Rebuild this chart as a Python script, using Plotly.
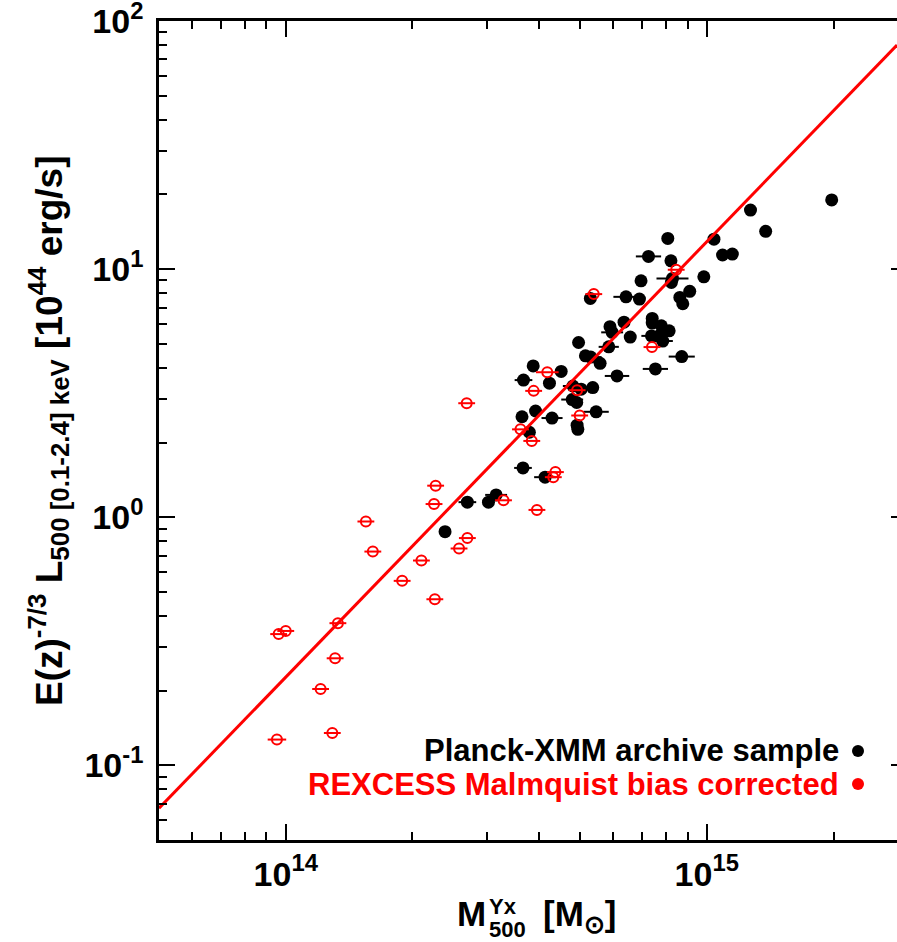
import plotly.graph_objects as go
import math

# ---------------- data ----------------
# Planck-XMM archive sample: M500^Yx [1e14 Msun], E(z)^-7/3 L500 [1e44 erg/s], x error (dex)
black_M = [19.8, 12.7, 13.8, 10.4, 8.08, 10.9, 11.5, 7.27, 8.22, 8.29,
           8.24, 9.84, 6.98, 9.11, 8.63, 8.77, 6.43, 6.92, 5.29, 7.42,
           7.42, 6.36, 5.89, 5.96, 7.80, 8.14, 7.39, 7.69, 7.86, 6.58,
           5.85, 4.96, 5.15, 5.30, 5.58, 8.72, 7.55, 6.12, 3.87, 4.51,
           3.67, 4.23, 4.81, 5.03, 5.36, 4.79, 4.91, 5.46, 3.92, 3.64,
           4.29, 4.92, 4.94, 3.79, 3.66, 4.13, 2.70, 3.03, 3.16, 2.39]
black_L = [19.0, 17.3, 14.2, 13.2, 13.3, 11.4, 11.5, 11.25, 10.8, 9.17,
           8.84, 9.31, 8.97, 8.14, 7.69, 7.25, 7.73, 7.57, 7.62, 6.33,
           6.06, 6.11, 5.86, 5.56, 5.91, 5.64, 5.38, 5.37, 5.13, 5.32,
           4.86, 5.06, 4.47, 4.42, 4.17, 4.44, 3.96, 3.71, 4.07, 3.87,
           3.57, 3.47, 3.38, 3.28, 3.33, 2.98, 2.90, 2.66, 2.68, 2.54,
           2.51, 2.35, 2.26, 2.20, 1.58, 1.45, 1.15, 1.15, 1.23, 0.874]
black_err_dex = [0.01, 0.01, 0.01, 0.01, 0.01, 0.01, 0.01, 0.030, 0.01, 0.038,
                 0.01, 0.01, 0.01, 0.01, 0.01, 0.01, 0.030, 0.01, 0.01, 0.01,
                 0.01, 0.01, 0.01, 0.026, 0.01, 0.01, 0.024, 0.01, 0.024, 0.01,
                 0.024, 0.01, 0.01, 0.026, 0.01, 0.031, 0.030, 0.029, 0.01, 0.01,
                 0.021, 0.01, 0.024, 0.01, 0.01, 0.026, 0.01, 0.030, 0.01, 0.01,
                 0.025, 0.01, 0.01, 0.01, 0.021, 0.026, 0.021, 0.01, 0.026, 0.01]

# REXCESS, Malmquist bias corrected
red_M = [5.39, 8.46, 7.41, 4.18, 3.88, 4.99, 4.92, 3.61, 3.84, 2.69,
         4.37, 4.32, 2.27, 2.25, 3.29, 3.95, 2.70, 1.55, 1.61, 2.58,
         2.10, 1.89, 2.26, 1.33, 1.00, 0.962, 1.31, 1.21, 1.29, 0.953]
red_L = [7.93, 9.94, 4.85, 3.84, 3.23, 2.57, 3.25, 2.26, 2.03, 2.88,
         1.52, 1.45, 1.34, 1.13, 1.17, 1.07, 0.824, 0.961, 0.727, 0.748,
         0.669, 0.554, 0.467, 0.374, 0.348, 0.338, 0.270, 0.203, 0.135, 0.127]
red_err_dex = [0.02, 0.02, 0.02, 0.027, 0.02, 0.02, 0.02, 0.02, 0.02, 0.02,
               0.02, 0.02, 0.02, 0.02, 0.02, 0.02, 0.02, 0.02, 0.02, 0.02,
               0.02, 0.02, 0.02, 0.02, 0.02, 0.02, 0.02, 0.02, 0.02, 0.022]

M_UNIT = 1e14
# best-fit power law  L = FIT_NORM * (M / FIT_PIVOT)^FIT_SLOPE
FIT_NORM = 3.82
FIT_PIVOT = 5e14
FIT_SLOPE = 1.755

X_RANGE = [5e13, 2.83e15]
Y_RANGE = [0.05, 100.0]
x_major = [1e14, 1e15]
x_major_text = ["10<sup>14</sup>", "10<sup>15</sup>"]
x_minor = [6e13, 7e13, 8e13, 9e13, 2e14, 3e14, 4e14, 5e14, 6e14, 7e14, 8e14, 9e14, 2e15]
y_major = [0.1, 1, 10, 100]
y_major_text = ["10<sup>-1</sup>", "10<sup>0</sup>", "10<sup>1</sup>", "10<sup>2</sup>"]
y_minor = [0.06, 0.07, 0.08, 0.09, 0.2, 0.3, 0.4, 0.5, 0.6, 0.7, 0.8, 0.9,
           2, 3, 4, 5, 6, 7, 8, 9, 20, 30, 40, 50, 60, 70, 80, 90]

legend_1 = "Planck-XMM archive sample"
legend_2 = "REXCESS Malmquist bias corrected"

# ---------------- figure ----------------
W, H = 897, 942
ML, MR, MT, MB = 159, 0, 21, 102
PW, PH = W - ML - MR, H - MT - MB
FONT = "Liberation Sans, Arial, Helvetica, sans-serif"


def px(x):
    return (x - ML) / PW


def py(y):
    return (H - MB - y) / PH


def err_pm(ms, ds):
    plus = [m * M_UNIT * (10 ** d - 1) for m, d in zip(ms, ds)]
    minus = [m * M_UNIT * (1 - 10 ** (-d)) for m, d in zip(ms, ds)]
    return plus, minus


bp, bm = err_pm(black_M, black_err_dex)
rp, rm = err_pm(red_M, red_err_dex)

fig = go.Figure()
fig.add_trace(go.Scatter(
    x=[m * M_UNIT for m in black_M], y=black_L, mode="markers",
    marker=dict(color="black", size=13, line=dict(width=0)),
    error_x=dict(type="data", array=bp, arrayminus=bm, color="black",
                 thickness=2, width=0),
    showlegend=False, hoverinfo="skip"))
fig.add_trace(go.Scatter(
    x=[m * M_UNIT for m in red_M], y=red_L, mode="markers",
    marker=dict(symbol="circle-open", color="red", size=10, line=dict(width=2, color="red")),
    error_x=dict(type="data", array=rp, arrayminus=rm, color="red",
                 thickness=2, width=0),
    showlegend=False, hoverinfo="skip"))

fit_x = X_RANGE
fit_y = [FIT_NORM * (m / FIT_PIVOT) ** FIT_SLOPE for m in fit_x]
fig.add_trace(go.Scatter(x=fit_x, y=fit_y, mode="lines", yaxis="y2",
                         line=dict(color="red", width=3),
                         showlegend=False, hoverinfo="skip"))

tickfont = dict(family=FONT, size=34, color="black", weight="bold")
common = dict(type="log", showline=True, linewidth=2.5, linecolor="black",
              ticks="inside", ticklen=16, tickwidth=2, tickcolor="black",
              showgrid=False, zeroline=False, tickfont=tickfont,
              ticklabeloverflow="allow")

yr = [math.log10(Y_RANGE[0]), math.log10(Y_RANGE[1]) + 1e-5]
fig.update_layout(
    width=W, height=H, margin=dict(l=ML, r=MR, t=MT, b=MB, autoexpand=False),
    paper_bgcolor="white", plot_bgcolor="white",
    xaxis=dict(range=[math.log10(X_RANGE[0]), math.log10(X_RANGE[1])],
               mirror="ticks", tickmode="array", tickvals=x_major, ticktext=x_major_text,
               minor=dict(ticks="inside", ticklen=8, tickwidth=2, tickcolor="black",
                          tickmode="array", tickvals=x_minor),
               ticklabelstandoff=2, **common),
    yaxis=dict(range=yr,
               mirror=False, tickmode="array", tickvals=y_major, ticktext=y_major_text,
               minor=dict(ticks="inside", ticklen=8, tickwidth=2, tickcolor="black",
                          tickmode="array", tickvals=y_minor),
               ticklabelstandoff=6, **common),
    yaxis2=dict(type="log", overlaying="y", side="right", anchor="free", position=1,
                range=yr,
                showline=False, ticks="inside", ticklen=6, tickwidth=2, tickcolor="black",
                tickmode="array", tickvals=y_major, showticklabels=False,
                showgrid=False, zeroline=False),
    showlegend=False,
)

ann = []
# y-axis title
ann.append(dict(xref="paper", yref="paper", x=px(48), y=py(431), xanchor="center", yanchor="middle",
                textangle=-90, showarrow=False,
                text="E(z)<sup>-7/3</sup> L<sub>500 [0.1-2.4] keV</sub> [10<sup>44</sup> erg/s]",
                font=dict(family=FONT, size=37, color="black", weight="bold")))
# x-axis title (stacked sub/superscript)
ann.append(dict(xref="paper", yref="paper", x=px(488), y=py(914), xanchor="right", yanchor="middle",
                showarrow=False, text="M",
                font=dict(family=FONT, size=35, color="black", weight="bold")))
ann.append(dict(xref="paper", yref="paper", x=px(487), y=py(906), xanchor="left", yanchor="middle",
                showarrow=False, text="Yx",
                font=dict(family=FONT, size=22, color="black", weight="bold")))
ann.append(dict(xref="paper", yref="paper", x=px(487), y=py(929), xanchor="left", yanchor="middle",
                showarrow=False, text="500",
                font=dict(family=FONT, size=22, color="black", weight="bold")))
ann.append(dict(xref="paper", yref="paper", x=px(541), y=py(916), xanchor="left", yanchor="middle",
                showarrow=False, text="[M<sub>⊙</sub>]",
                font=dict(family=FONT, size=35, color="black", weight="bold")))
# legend
ann.append(dict(xref="paper", yref="paper", x=px(841), y=py(750), xanchor="right", yanchor="middle",
                showarrow=False, text=legend_1,
                font=dict(family=FONT, size=31, color="black", weight="bold")))
ann.append(dict(xref="paper", yref="paper", x=px(841), y=py(784), xanchor="right", yanchor="middle",
                showarrow=False, text=legend_2,
                font=dict(family=FONT, size=31, color="red", weight="bold")))
fig.update_layout(annotations=ann)

shapes = []
for yc, col in [(751, "black"), (784, "red")]:
    shapes.append(dict(type="circle", xref="paper", yref="paper",
                       x0=px(852), x1=px(864), y0=py(yc + 6), y1=py(yc - 6),
                       fillcolor=col, line=dict(width=0)))
fig.update_layout(shapes=shapes)

fig.write_html("out.html", config={"displayModeBar": False},
               post_script="document.body.style.margin='0';document.body.style.overflow='hidden';")
